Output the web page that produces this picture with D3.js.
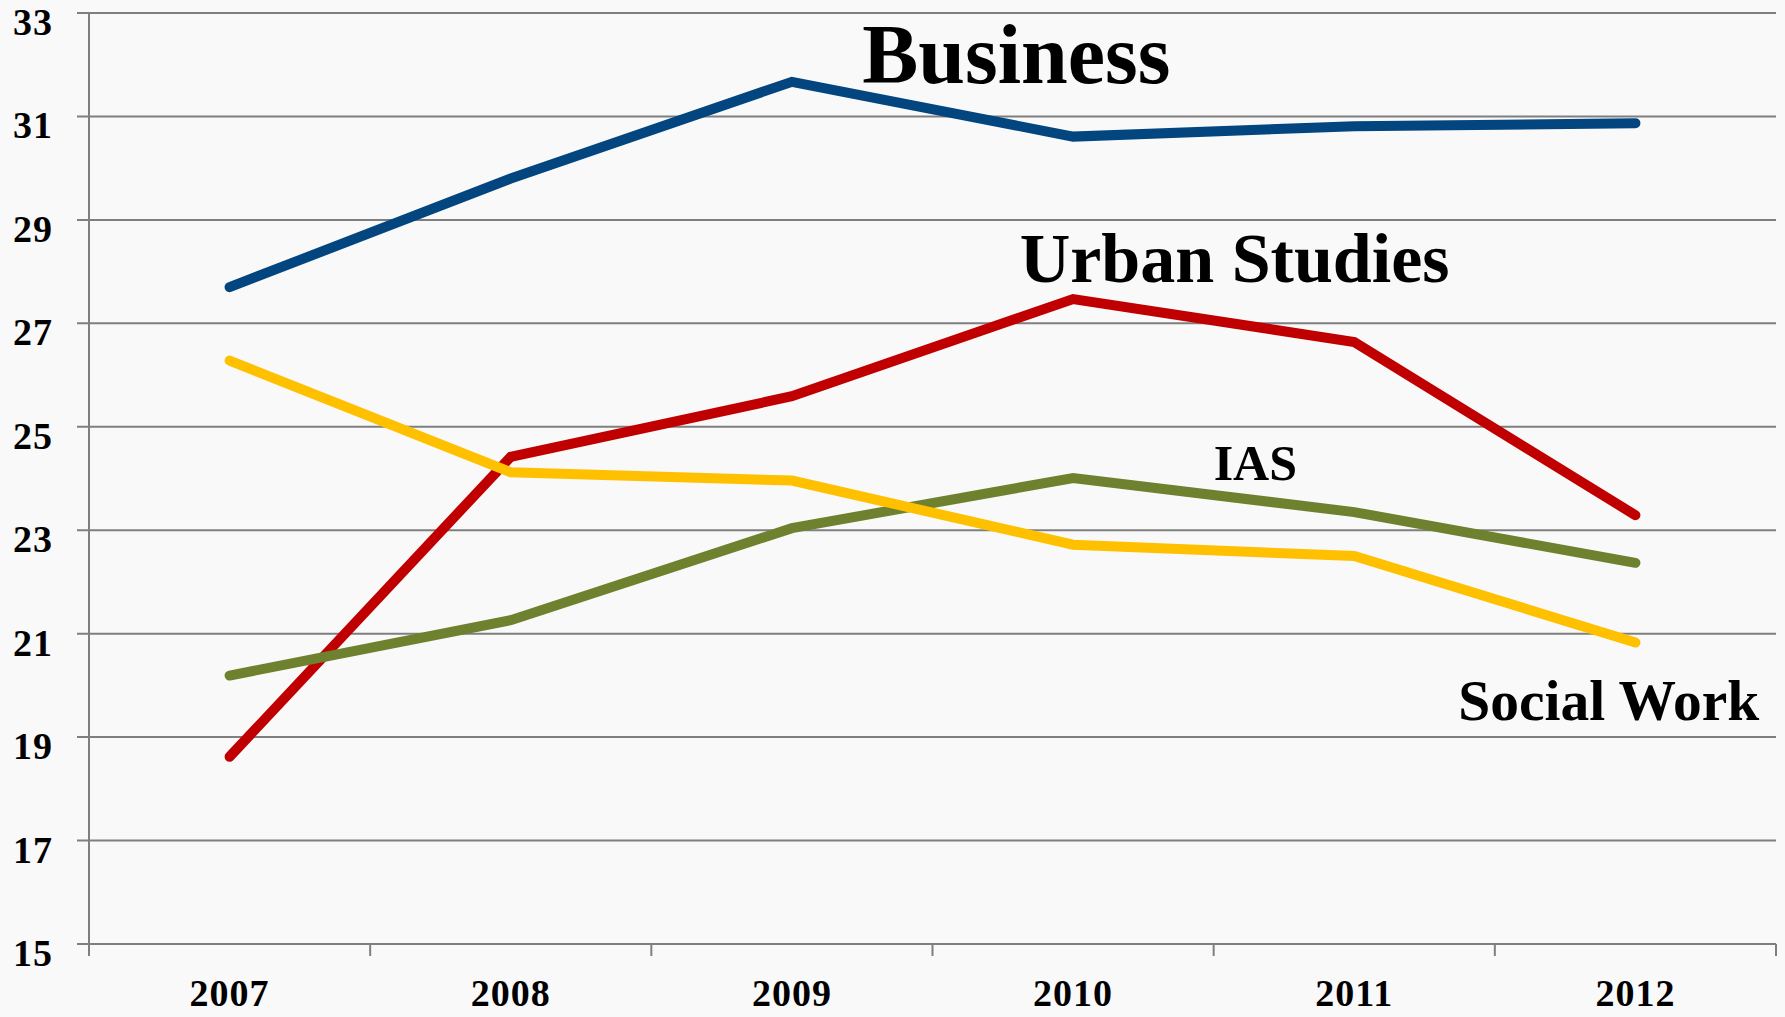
<!DOCTYPE html>
<html>
<head>
<meta charset="utf-8">
<script src="https://cdn.jsdelivr.net/npm/d3@7"></script>
<style>
  html, body { margin: 0; padding: 0; background: #f9f9f9; }
  svg { display: block; }
  .tick-label { font-family: "Liberation Serif", serif; font-weight: bold; font-size: 38px; letter-spacing: 1px; fill: #000; }
  .series-label { font-family: "Liberation Serif", serif; font-weight: bold; fill: #000; }
</style>
</head>
<body>
<div class="chart"></div>
<script>
const w = 1785;
const h = 1017;
const margin = { top: 13, bottom: 73, left: 89, right: 9 };

// data
const years = ["2007", "2008", "2009", "2010", "2011", "2012"];
const business = [27.70, 29.80, 31.67, 30.61, 30.81, 30.87];
const urbanStudies = [18.62, 24.42, 25.59, 27.47, 26.64, 23.29];
const socialWork = [26.28, 24.12, 23.96, 22.72, 22.50, 20.83];
const ias = [20.19, 21.26, 23.04, 24.01, 23.35, 22.37];
const yTicks = [15, 17, 19, 21, 23, 25, 27, 29, 31, 33];

const series = [
  { name: "Business", values: business, color: "#02457f" },
  { name: "Urban Studies", values: urbanStudies, color: "#c00000" },
  { name: "IAS", values: ias, color: "#6d812e" },
  { name: "Social Work", values: socialWork, color: "#ffc000" }
];

// label anchors in data units (index along x, value along y)
const labels = [
  { text: "Business", at: [2.25, 31.65], size: 84 },
  { text: "Urban Studies", at: [2.81, 27.80], size: 70 },
  { text: "IAS", at: [3.50, 23.98], size: 50 },
  { text: "Social Work", at: [4.37, 19.34], size: 57.5 }
];

const x = d3.scaleBand()
  .domain(years)
  .range([margin.left, w - margin.right]);

const xi = d3.scaleLinear()
  .domain([0, years.length - 1])
  .range([x(years[0]) + x.bandwidth() / 2, x(years[years.length - 1]) + x.bandwidth() / 2]);

const y = d3.scaleLinear()
  .domain([15, 33])
  .range([h - margin.bottom, margin.top]);

const svg = d3.select(".chart")
  .append("svg")
  .attr("width", w)
  .attr("height", h);

svg.append("rect")
  .attr("width", w)
  .attr("height", h)
  .attr("fill", "#f9f9f9");

// horizontal gridlines
svg.append("g")
  .selectAll("line")
  .data(yTicks)
  .enter()
    .append("line")
    .attr("x1", margin.left - 12)
    .attr("x2", w - margin.right)
    .attr("y1", d => y(d))
    .attr("y2", d => y(d))
    .attr("stroke", "#7f7f7f")
    .attr("stroke-width", 2);

// left axis line
svg.append("line")
  .attr("x1", margin.left)
  .attr("x2", margin.left)
  .attr("y1", y(33))
  .attr("y2", y(15) + 12)
  .attr("stroke", "#7f7f7f")
  .attr("stroke-width", 2);

// x tick marks at band edges
const edges = years.map(d => x(d)).concat([x(years[years.length - 1]) + x.bandwidth()]);
svg.append("g")
  .selectAll("line")
  .data(edges)
  .enter()
    .append("line")
    .attr("x1", d => d)
    .attr("x2", d => d)
    .attr("y1", y(15))
    .attr("y2", y(15) + 12)
    .attr("stroke", "#7f7f7f")
    .attr("stroke-width", 2);

// y tick labels
svg.append("g")
  .selectAll("text")
  .data(yTicks)
  .enter()
    .append("text")
    .attr("class", "tick-label")
    .attr("x", 53)
    .attr("y", d => y(d) + 22)
    .attr("text-anchor", "end")
    .text(d => d);

// x tick labels
svg.append("g")
  .selectAll("text")
  .data(years)
  .enter()
    .append("text")
    .attr("class", "tick-label")
    .attr("x", d => x(d) + x.bandwidth() / 2)
    .attr("y", 1006)
    .attr("text-anchor", "middle")
    .text(d => d);

// the lines
const line = d3.line()
  .x((d, i) => x(years[i]) + x.bandwidth() / 2)
  .y(d => y(d));

svg.append("g")
  .selectAll("path")
  .data(series)
  .enter()
    .append("path")
    .attr("d", d => line(d.values))
    .attr("fill", "none")
    .attr("stroke", d => d.color)
    .attr("stroke-width", 10)
    .attr("stroke-linecap", "round")
    .attr("stroke-linejoin", "miter");

// series labels
svg.append("g")
  .selectAll("text")
  .data(labels)
  .enter()
    .append("text")
    .attr("class", "series-label")
    .attr("x", d => xi(d.at[0]))
    .attr("y", d => y(d.at[1]))
    .style("font-size", d => d.size + "px")
    .text(d => d.text);
</script>
</body>
</html>
